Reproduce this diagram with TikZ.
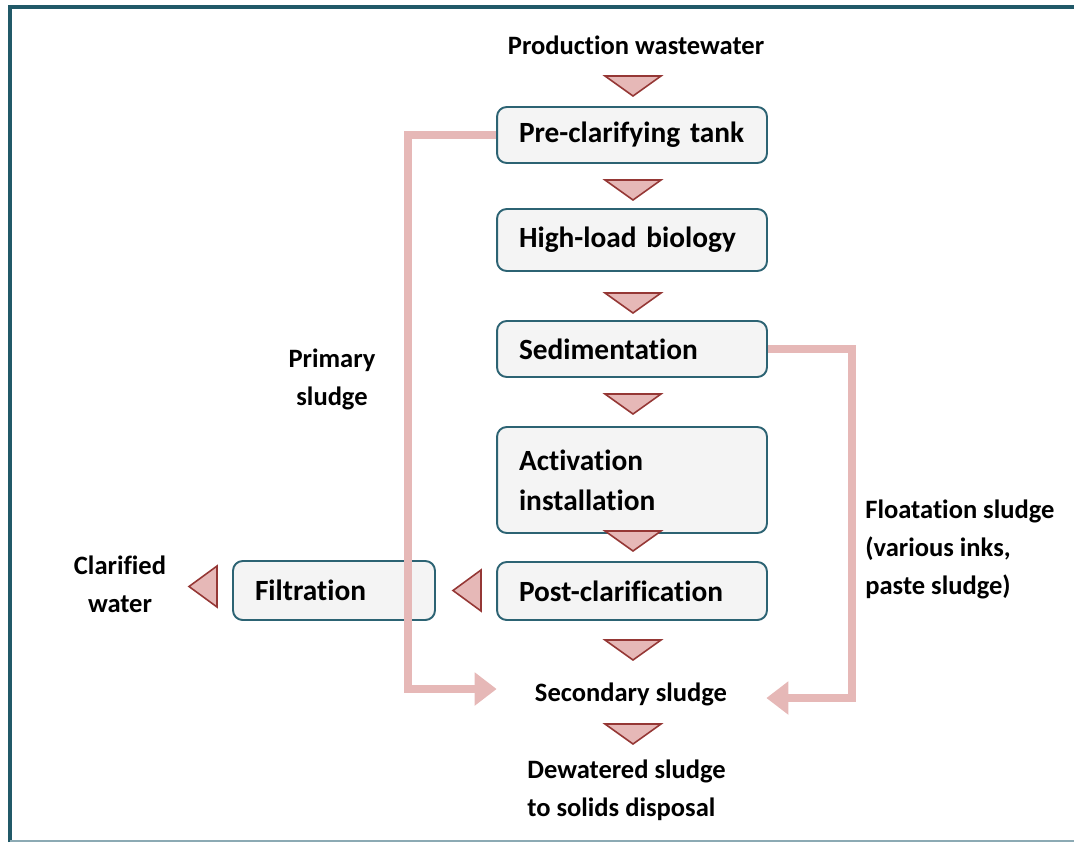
\documentclass[tikz,border=0pt]{standalone}
\usepackage{fontspec}
\setmainfont{Carlito}[Ligatures=NoCommon]
\usepackage{tikz}
\usetikzlibrary{arrows.meta}

\definecolor{framedark}{HTML}{215968}
\definecolor{framelight}{HTML}{8CAAB4}
\definecolor{boxline}{HTML}{2C6373}
\definecolor{boxfill}{HTML}{F4F4F4}
\definecolor{sludge}{HTML}{E6B8B7}
\definecolor{tridark}{HTML}{953735}

\tikzset{
  stage/.style={draw=boxline, line width=1.1pt, fill=boxfill, rounded corners=5.5pt,
    align=left, inner xsep=0.44cm, inner ysep=0pt, text width=#1,
    font=\fontsize{16.7}{22.8}\selectfont\bfseries},
  stage/.default=4.52cm,
  tag/.style={font=\fontsize{15.1}{21.6}\selectfont\bfseries, inner sep=0pt},
  flowtri/.style={draw=tridark, fill=sludge, line width=0.9pt},
  sludgeline/.style={draw=sludge, line width=5.1pt,
    -{Triangle[length=0.44cm, width=0.64cm, fill=sludge]}},
}

\begin{document}
\begin{tikzpicture}[x=0.02cm, y=-0.02cm]
    \useasboundingbox (0,0) rectangle (1074,842);
\draw[framedark, line width=2.3pt] (10,842) -- (10,7) -- (1074,7);
\draw[framelight, line width=1.1pt] (10,841) -- (1074,841);

\node[tag] (prod) at (636,45) {Production wastewater};
\node[stage, minimum height=1.12cm] (pre) at (632,135) {Pre-clarifying tank};
\node[stage, minimum height=1.24cm] (high) at (632,240) {High-load biology};
\node[stage, minimum height=1.12cm] (sed) at (632,349) {Sedimentation};
\node[stage, minimum height=2.12cm] (act) at (632,480) {Activation\\installation};
\node[stage, minimum height=1.16cm] (post) at (632,591) {Post-clarification};
\node[stage=3.16cm, minimum height=1.18cm] (filt) at (334,590.5) {Filtration};
\node[tag, align=center] (clar) at (120,584) {Clarified\\water};
\node[tag, align=center] (prim) at (332,379) {Primary\\sludge};
\node[tag, align=left, anchor=west] (float) at (865,549) {Floatation sludge\\(various inks,\\paste sludge)};
\node[tag] (sec) at (631,694) {Secondary sludge};
\node[tag, align=left, anchor=west] (dew) at (527,790) {Dewatered sludge\\to solids disposal};

\foreach \y in {76,180,293,394,531,640,724}
    \draw[flowtri] (605,\y) -- (661,\y) -- (633,\y+20) -- cycle;
\draw[flowtri] (481,570) -- (481,611) -- (453,590.5) -- cycle;
\draw[flowtri] (217,566) -- (217,607) -- (189,586.5) -- cycle;

\coordinate (primturn) at (408,689);
\coordinate (floatturn) at (852,698);
\draw[sludgeline, shorten >=0.76cm] (pre.west) -| (primturn) -- (primturn -| sec.west);
\draw[sludgeline, shorten >=0.78cm] (sed.east) -| (floatturn) -- (floatturn -| sec.east);
    \end{tikzpicture}
\end{document}
